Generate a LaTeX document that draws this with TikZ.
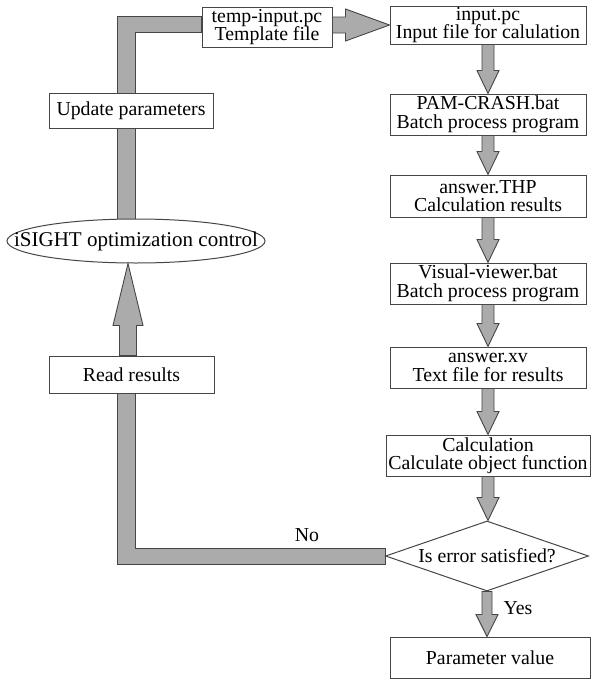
\documentclass[tikz,border=0pt]{standalone}
\usepackage{fontspec}
\setmainfont{Liberation Serif}
\usetikzlibrary{shapes.geometric,calc}
\pgfdeclarelayer{background}
\pgfsetlayers{background,main}
\definecolor{arrowgray}{HTML}{ABABAB}
\definecolor{edgegray}{HTML}{464646}
\tikzset{
  box/.style={draw=edgegray, line width=1pt, fill=white, rectangle, inner sep=0pt,
    align=center, font=\fontsize{19.8}{18.5}\selectfont},
  garrow/.style={fill=arrowgray, draw=edgegray, line width=0.9pt, line join=miter},
  lbl/.style={font=\fontsize{19.8}{18.5}\selectfont, inner sep=0pt},
}
\newcommand{\dnarrow}[5]{%
  \draw[garrow] let \p1=(#1.south), \p2=(#2.north) in
    (\x1-#3pt,\y1) -- (\x1-#3pt,\y2+#5pt) -- (\x1-#4pt,\y2+#5pt) -- (\x1,\y2)
    -- (\x1+#4pt,\y2+#5pt) -- (\x1+#3pt,\y2+#5pt) -- (\x1+#3pt,\y1) -- cycle;}
\begin{document}
\begin{tikzpicture}[x=1pt,y=-1pt]
\useasboundingbox (0,0) rectangle (590,680);
\coordinate (lane) at (126.5,24.5);
% right column
\node[box, minimum width=196pt, minimum height=38pt] (input) at (488,25) {input.pc\\Input file for calulation};
\node[box, minimum width=196pt, minimum height=41pt] (pam) at (488,114.5) {PAM-CRASH.bat\\Batch process program};
\node[box, minimum width=196pt, minimum height=42pt] (thp) at (488,196) {answer.THP\\Calculation results};
\node[box, minimum width=196pt, minimum height=41pt] (vis) at (488,283.5) {Visual-viewer.bat\\Batch process program};
\node[box, minimum width=196pt, minimum height=41pt] (xv) at (488,367.5) {answer.xv\\Text file for results};
\node[box, minimum width=204pt, minimum height=41pt] (calc) at (488,455.5) {Calculation\\Calculate object function};
\node[box, shape=diamond, shape aspect=2.9, minimum width=203pt, minimum height=70pt] (dia) at (487,556) {Is error satisfied?};
\node[box, minimum width=200pt, minimum height=41pt] (param) at (490,657.5) {Parameter value};
% left column
\node[box, minimum width=130pt, minimum height=40pt] (temp) at (267,27) {temp-input.pc\\Template file};
\node[box, minimum width=164pt, minimum height=35pt] (update) at (131,110.5) {Update parameters};
\node[draw=edgegray, line width=1pt, fill=white, ellipse, inner sep=0pt, minimum width=258pt, minimum height=44pt] (isight) at (136,241) {};
\node[lbl, font=\fontsize{21}{21}\selectfont] (isighttext) at (isight.center) {iSIGHT optimization control};
\node[box, minimum width=165pt, minimum height=37pt] (readres) at (131.5,374.5) {Read results};
% labels
\node[lbl] (no) at (307,535) {No};
\node[lbl] (yes) at (518,608) {Yes};
% return band (behind nodes)
\begin{pgfonlayer}{background}
\fill[white] (0,0) rectangle (590,680);
\draw[garrow] let \p1=(dia.west), \p2=(readres.south), \p3=(lane) in
  (\x1,\y1-8pt) -- (\x3-9pt,\y1-8pt) -- (\x3-9pt,\y2) -- (\x3+9pt,\y2)
  -- (\x3+9pt,\y1+8pt) -- (\x1,\y1+8pt) -- cycle;
\draw[garrow] let \p1=(isight.center), \p3=(lane), \p5=(temp.west) in
  (\x3-9pt,\y1) -- (\x3-9pt,\y3+8pt) -- (\x5,\y3+8pt) -- (\x5,\y3-8pt)
  -- (\x3+9pt,\y3-8pt) -- (\x3+9pt,\y1) -- cycle;
\end{pgfonlayer}
% up arrow to iSIGHT
\draw[garrow] let \p1=(readres.north), \p2=(isight.south), \p3=(lane) in
  (\x3-7pt,\y1) -- (\x3-7pt,\y2-62pt) -- (\x3-13.5pt,\y2-62pt) -- (\x3+1.5pt,\y2)
  -- (\x3+16.5pt,\y2-62pt) -- (\x3+10pt,\y2-62pt) -- (\x3+10pt,\y1) -- cycle;
% template -> input
\draw[garrow] let \p1=(temp.east), \p2=(input.west) in
  (\x1,\y2+8pt) -- (\x2-44pt,\y2+8pt) -- (\x2-44pt,\y2+16pt) -- (\x2,\y2)
  -- (\x2-44pt,\y2-16pt) -- (\x2-44pt,\y2-8pt) -- (\x1,\y2-8pt) -- cycle;
% right column arrows
\dnarrow{input}{pam}{6}{11}{23}
\dnarrow{pam}{thp}{6}{11}{23}
\dnarrow{thp}{vis}{6}{11}{23}
\dnarrow{vis}{xv}{6}{11}{23}
\dnarrow{xv}{calc}{6}{11}{23}
\dnarrow{calc}{dia}{6}{11}{23}
\dnarrow{dia}{param}{5}{11}{22}
\end{tikzpicture}
\end{document}
